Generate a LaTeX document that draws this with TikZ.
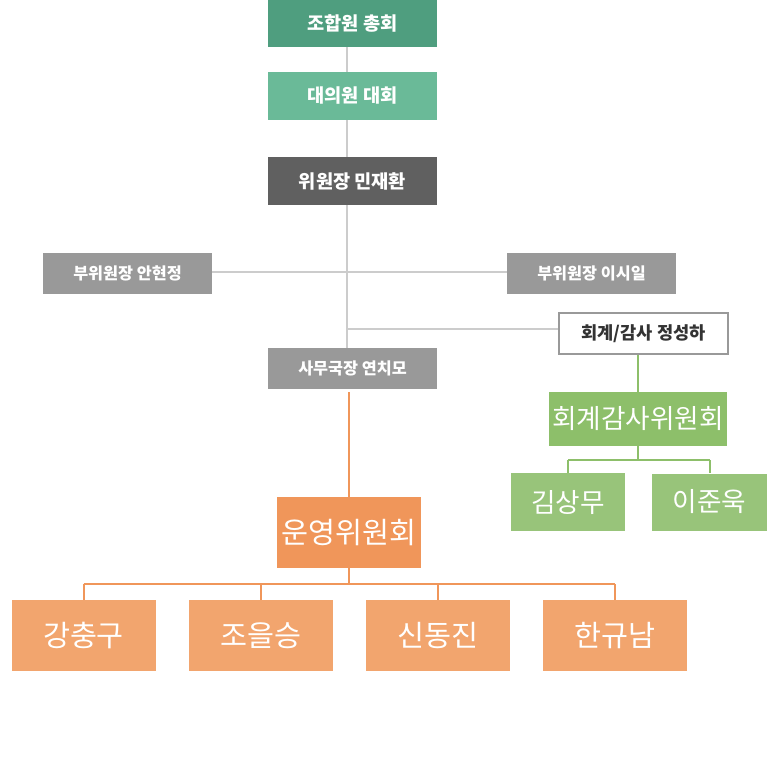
\documentclass[tikz,border=0pt]{standalone}
\usepackage{fontspec}
\setmainfont{Noto Sans CJK KR}
\newfontfamily\kr{Noto Sans CJK KR}
\usetikzlibrary{calc,backgrounds}
\definecolor{gA}{RGB}{79,158,127}
\definecolor{gB}{RGB}{106,186,152}
\definecolor{dG}{RGB}{96,96,96}
\definecolor{mG}{RGB}{153,153,153}
\definecolor{lineG}{RGB}{204,204,204}
\definecolor{oA}{RGB}{240,150,90}
\definecolor{oB}{RGB}{242,165,110}
\definecolor{grA}{RGB}{141,191,106}
\definecolor{grB}{RGB}{152,196,122}
\definecolor{txt}{RGB}{51,51,51}
\tikzset{
  box/.style={rectangle, inner sep=0pt, text=white, font=\kr\bfseries\fontsize{14}{16}\selectfont},
  smallbox/.style={box, font=\kr\bfseries\fontsize{12.2}{14}\selectfont},
  bigbox/.style={rectangle, inner sep=0pt, text=white, font=\kr\fontsize{22}{24}\selectfont},
  midbox/.style={bigbox, font=\kr\fontsize{20}{22}\selectfont},
  grayline/.style={draw=lineG, line width=0.8pt},
  orangeline/.style={draw=oA, line width=1.5pt},
  greenline/.style={draw=grA, line width=1.5pt}
}
\begin{document}
\begin{tikzpicture}[x=0.75pt, y=-0.75pt]
\useasboundingbox (0,0) rectangle (780,779);
% top chain
\node[box, fill=gA, minimum width=126.75pt, minimum height=35.25pt] (b1) at (352.5,23.5) {조합원 총회};
\node[box, fill=gB, minimum width=126.75pt, minimum height=36pt] (b2) at (352.5,96) {대의원 대회};
\node[box, fill=dG, minimum width=126.75pt, minimum height=36pt] (b3) at (352.5,181) {위원장 민재환};
\node[smallbox, fill=mG, minimum width=126.75pt, minimum height=30.75pt] (vp1) at (127.5,273.5) {부위원장 안현정};
\node[smallbox, fill=mG, minimum width=126.75pt, minimum height=30.75pt] (vp2) at (591.5,273.5) {부위원장 이시일};
\node[smallbox, font=\kr\bfseries\fontsize{13.2}{15}\selectfont, fill=white, draw=mG, line width=0.8pt, text=txt, minimum width=126.75pt, minimum height=30.75pt] (aud) at (643.5,333.5) {회계/감사 정성하};
\node[smallbox, fill=mG, minimum width=126.75pt, minimum height=30.75pt] (sec) at (352.5,368.5) {사무국장 연치모};
% operations committee
\node[bigbox, fill=oA, minimum width=108pt, minimum height=53.25pt] (ops) at (349,532.5) {운영위원회};
\node[bigbox, fill=oB, minimum width=108pt, minimum height=53.25pt] (o1) at (83.5,635.5) {강충구};
\node[bigbox, fill=oB, minimum width=108pt, minimum height=53.25pt] (o2) at (261,635.5) {조을승};
\node[bigbox, fill=oB, minimum width=108pt, minimum height=53.25pt] (o3) at (437.5,635.5) {신동진};
\node[bigbox, fill=oB, minimum width=108pt, minimum height=53.25pt] (o4) at (614.5,635.5) {한규남};
% audit committee
\node[midbox, fill=grA, minimum width=133.5pt, minimum height=40.5pt] (acc) at (638,419) {회계감사위원회};
\node[midbox, fill=grB, minimum width=85.5pt, minimum height=43.5pt] (m1) at (568,502) {김상무};
\node[midbox, fill=grB, minimum width=86.25pt, minimum height=42.75pt] (m2) at (709.5,502) {이준욱};
% coordinates
\coordinate (spine) at (347,0);
\coordinate (vpy) at (0,272);
\coordinate (audy) at (0,329);
\coordinate (obus) at (0,584);
\coordinate (gbus) at (0,460);
\begin{scope}[on background layer]
% gray connectors
\draw[grayline] (b1.south -| spine) -- (sec.north -| spine);
\draw[grayline] (vp1.east |- vpy) -- (vp2.west |- vpy);
\draw[grayline] (spine |- audy) -- (aud.west |- audy);
% orange connectors
\draw[orangeline] (ops.north |- sec.south) ++(0,3) -- (ops.north);
\draw[orangeline] (ops.south) -- (ops.south |- obus);
\draw[orangeline] (o1.north |- obus) -- (o4.north |- obus);
\foreach \n in {o1,o2,o3,o4} \draw[orangeline] (\n.north |- obus) -- (\n.north);
% green connectors
\draw[greenline] (acc.north |- aud.south) -- (acc.north);
\draw[greenline] (acc.south) -- (acc.south |- gbus);
\draw[greenline] (m1.north |- gbus) -- (m2.north |- gbus);
\foreach \n in {m1,m2} \draw[greenline] (\n.north |- gbus) -- (\n.north);
\end{scope}
\end{tikzpicture}
\end{document}
